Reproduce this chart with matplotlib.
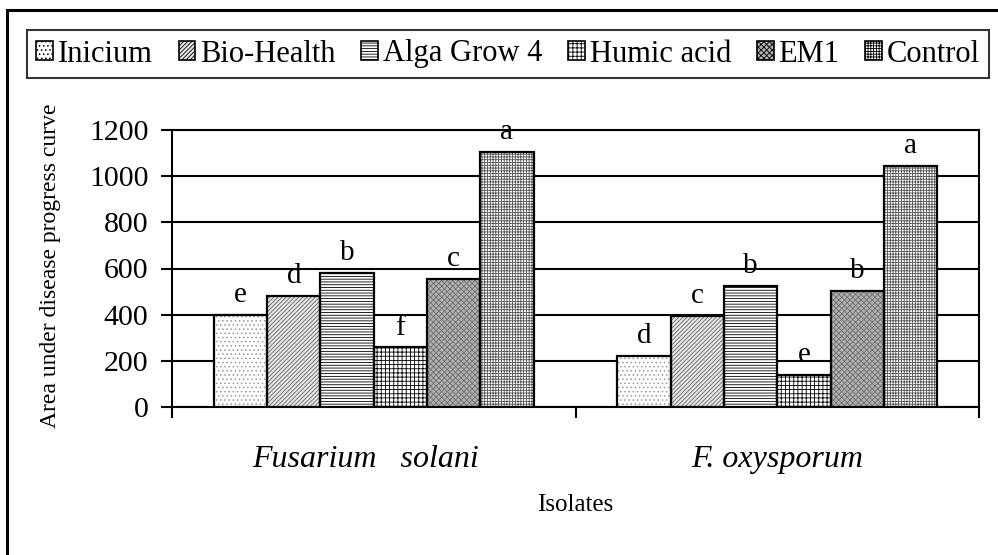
import numpy as np
import matplotlib
matplotlib.use('Agg')
import matplotlib.pyplot as plt
from matplotlib.patches import Patch
from matplotlib.lines import Line2D

plt.rcParams['font.family'] = ['Liberation Serif', 'DejaVu Serif']
plt.rcParams['hatch.linewidth'] = 0.6

isolates = ['Fusarium   solani', 'F. oxysporum']
treatments = ['Inicium', 'Bio-Health', 'Alga Grow 4', 'Humic acid', 'EM1', 'Control']
values = {
    'Inicium': [400, 220],
    'Bio-Health': [480, 395],
    'Alga Grow 4': [580, 524],
    'Humic acid': [258, 140],
    'EM1': [554, 502],
    'Control': [1104, 1043],
}
letters = {
    'Inicium': ['e', 'd'],
    'Bio-Health': ['d', 'c'],
    'Alga Grow 4': ['b', 'b'],
    'Humic acid': ['f', 'e'],
    'EM1': ['c', 'b'],
    'Control': ['a', 'a'],
}

# face colour, hatch, hatch colour
styles = {
    'Inicium': ('white', '....', '#999999'),
    'Bio-Health': ('#e6e6e6', '////////', '#666666'),
    'Alga Grow 4': ('white', '------', 'black'),
    'Humic acid': ('white', '++++', 'black'),
    'EM1': ('#b0b0b0', 'xxxxxx', '#707070'),
    'Control': ('white', '++++++', '#555555'),
}

fig = plt.figure(figsize=(9.98, 5.55), dpi=100)
ax = fig.add_axes([172 / 998, 1 - 407 / 555, 807 / 998, 277 / 555])

x = np.arange(len(isolates))
width = 0.132
offsets = (np.arange(len(treatments)) - 2.5) * width

for i, t in enumerate(treatments):
    fc, hatch, hc = styles[t]
    pos = x + offsets[i]
    ax.bar(pos, values[t], width, color=fc, hatch=hatch, edgecolor=hc,
           linewidth=0, zorder=3)
    ax.bar(pos, values[t], width, fill=False, edgecolor='black',
           linewidth=1.6, zorder=4)
    for p, v, lab in zip(pos, values[t], letters[t]):
        ax.annotate(lab, (p, v), xytext=(0, 5), textcoords='offset points',
                    ha='center', va='bottom', fontsize=21)

ax.set_xlim(-0.5, 1.5)
ax.set_ylim(0, 1200)
ax.set_yticks(np.arange(0, 1201, 200))
ax.tick_params(axis='y', labelsize=21.5, length=8, width=1.5, direction='out', pad=9)
ax.set_xticks([-0.5, 0.5, 1.5])
ax.set_xticklabels([])
ax.tick_params(axis='x', length=8, width=1.5, direction='out')
ax.yaxis.grid(True, color='black', linewidth=1.5, zorder=0)
ax.set_axisbelow(True)
for s in ax.spines.values():
    s.set_linewidth(1.5)
    s.set_color('black')

for xi, name in zip(x, isolates):
    ax.text(xi - 0.02 * (xi == 0), -0.19, name, transform=ax.get_xaxis_transform(),
            ha='center', va='center', fontsize=23, style='italic')

ax.set_ylabel('Area under disease progress curve', fontsize=17)
ax.yaxis.set_label_coords(-0.138, 0.51)
fig.text(575 / 998, 1 - 505 / 555, 'Isolates', ha='center', va='center', fontsize=18)

handles = [Patch(facecolor=styles[t][0], hatch=styles[t][1], edgecolor='black',
                 linewidth=1.2) for t in treatments]
leg = fig.legend(handles, treatments, loc='center', ncol=6,
                 bbox_to_anchor=(508 / 998, 1 - 54 / 555), fontsize=22,
                 frameon=True, fancybox=False, edgecolor='black',
                 handlelength=0.55, handleheight=0.55, handletextpad=0.15,
                 columnspacing=0.85, borderpad=0.3, borderaxespad=0)
leg.get_frame().set_linewidth(1.5)

# outer frame (left and top edges visible)
fig.add_artist(Line2D([7 / 998, 7 / 998], [0, 1 - 10 / 555], color='black', linewidth=2.2))
fig.add_artist(Line2D([7 / 998, 1], [1 - 10 / 555, 1 - 10 / 555], color='black', linewidth=2.2))

fig.savefig('out.png', dpi=100)
